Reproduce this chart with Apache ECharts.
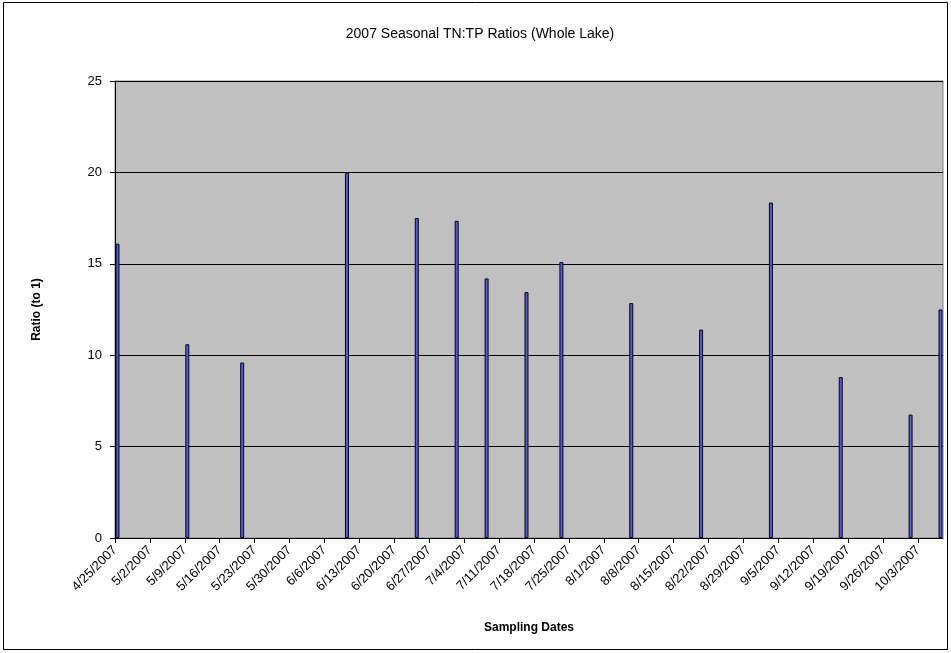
<!DOCTYPE html>
<html>
<head>
<meta charset="utf-8">
<script src="https://cdn.jsdelivr.net/npm/echarts@6/dist/echarts.min.js"></script>
<style>
  html, body { margin: 0; padding: 0; background: #fff; }
  #chart { width: 951px; height: 653px; }
</style>
</head>
<body>
<div id="chart"></div>
<script>
// Sampling dates and TN:TP ratios
var sampleDates = ['4/25/2007', '5/9/2007', '5/20/2007', '6/10/2007', '6/24/2007', '7/2/2007',
  '7/8/2007', '7/16/2007', '7/23/2007', '8/6/2007', '8/20/2007', '9/3/2007', '9/17/2007',
  '10/1/2007', '10/7/2007'];
var ratios = [16.1, 10.6, 9.6, 20.0, 17.5, 17.35, 14.2, 13.45, 15.1, 12.85, 11.4, 18.35, 8.8, 6.75, 12.5];

// Weekly axis ticks
var tickLabels = ['4/25/2007', '5/2/2007', '5/9/2007', '5/16/2007', '5/23/2007', '5/30/2007',
  '6/6/2007', '6/13/2007', '6/20/2007', '6/27/2007', '7/4/2007', '7/11/2007', '7/18/2007',
  '7/25/2007', '8/1/2007', '8/8/2007', '8/15/2007', '8/22/2007', '8/29/2007', '9/5/2007',
  '9/12/2007', '9/19/2007', '9/26/2007', '10/3/2007'];
var axisStart = '4/25/2007';
var axisEnd = '10/8/2007';

// Days since the axis start date
function dayIndex(s) {
  var p = s.split('/');
  var t = Date.UTC(+p[2], +p[0] - 1, +p[1]);
  var q = axisStart.split('/');
  var t0 = Date.UTC(+q[2], +q[0] - 1, +q[1]);
  return Math.round((t - t0) / 86400000);
}
var labelByDay = {};
var tickDays = tickLabels.map(function (s) { var d = dayIndex(s); labelByDay[d] = s; return d; });

// each bar sits in the middle of its day slot
var barData = sampleDates.map(function (s, i) { return [dayIndex(s) + 0.5, ratios[i]]; });

var FONT = 'Liberation Sans, Arial, sans-serif';
var chart = echarts.init(document.getElementById('chart'), null, { renderer: 'canvas' });
chart.setOption({
  animation: false,
  backgroundColor: '#ffffff',
  title: {
    text: '2007 Seasonal TN:TP Ratios (Whole Lake)',
    left: 475, top: 22, textAlign: 'center',
    textStyle: { fontFamily: FONT, fontSize: 14, fontWeight: 'normal', color: '#000' }
  },
  graphic: [{
    type: 'rect', shape: { x: 3.5, y: 2.5, width: 944, height: 647 }, z: -1,
    style: { fill: 'none', stroke: '#000', lineWidth: 1 }
  }],
  grid: { left: 115, top: 81, width: 828, height: 457, show: true,
    backgroundColor: '#c0c0c0', borderColor: '#808080', borderWidth: 1 },
  xAxis: {
    type: 'value', min: 0, max: dayIndex(axisEnd),
    name: 'Sampling Dates', nameLocation: 'middle', nameGap: 84,
    nameTextStyle: { fontFamily: FONT, fontSize: 12, fontWeight: 'bold', color: '#000' },
    splitLine: { show: false },
    axisLine: { lineStyle: { color: '#000', width: 1 } },
    axisTick: { show: true, length: 5, customValues: tickDays, lineStyle: { color: '#000' } },
    axisLabel: {
      customValues: tickDays, rotate: 45, margin: 10,
      fontFamily: FONT, fontSize: 13, color: '#000',
      formatter: function (v) { return labelByDay[Math.round(v)] || ''; }
    }
  },
  yAxis: {
    type: 'value', min: 0, max: 25, interval: 5,
    name: 'Ratio (to 1)', nameLocation: 'middle', nameGap: 72, nameRotate: 90,
    nameTextStyle: { fontFamily: FONT, fontSize: 12, fontWeight: 'bold', color: '#000' },
    axisLine: { show: true, lineStyle: { color: '#000', width: 1 } },
    axisTick: { show: true, length: 5, lineStyle: { color: '#000' } },
    axisLabel: { margin: 13, fontFamily: FONT, fontSize: 13, color: '#000' },
    splitLine: { show: true, lineStyle: { color: '#000', width: 1 } }
  },
  series: [{
    type: 'bar',
    data: barData,
    barWidth: 4,
    itemStyle: { color: '#5c5cb8', borderColor: '#000033', borderWidth: 1 }
  }]
});
</script>
</body>
</html>
